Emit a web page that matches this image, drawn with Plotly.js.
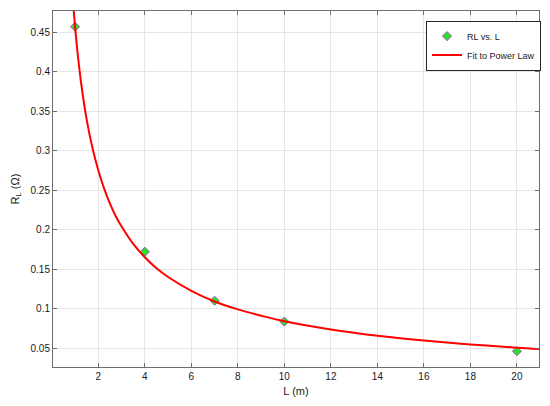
<!DOCTYPE html>
<html>
<head>
<meta charset="utf-8">
<script src="https://cdn.plot.ly/plotly-3.0.1.min.js"></script>
<style>
html,body{margin:0;padding:0;background:#fff;}
#plot{width:550px;height:406px;}
</style>
</head>
<body>
<div id="plot"></div>
<script>
// measured points
const L=[1,4,7,10,20];
const RL=[0.457,0.172,0.110,0.0835,0.046];

// fitted curve
const fitL=[0.93,1,1.1,1.25,1.5,1.75,2,2.25,2.5,2.75,3,3.5,4,4.5,5,6,7,8,9,10,12,14,16,18,20,21];
const fitRL=[0.482,0.457,0.426,0.388,0.339,0.303,0.275,0.252,0.233,0.217,0.204,0.182,0.165,0.151,0.140,0.1225,0.109,0.099,0.091,0.084,0.0736,0.0657,0.0596,0.0546,0.0505,0.0488];

const xTicks=[2,4,6,8,10,12,14,16,18,20];
const yTicks=[0.05,0.1,0.15,0.2,0.25,0.3,0.35,0.4,0.45];

let trace1={x:L,y:RL,name:"RL vs. L",mode:"markers",type:"scatter",
  marker:{symbol:"diamond",size:7,color:"#22e622",line:{color:"#c040d0",width:1}}};
let trace2={x:fitL,y:fitRL,name:"Fit to Power Law",mode:"lines",type:"scatter",
  line:{color:"#ff0000",width:2,shape:"spline",smoothing:1}};

let axisStyle={showline:true,linecolor:"#6e6e6e",linewidth:1,mirror:"ticks",
  ticks:"inside",ticklen:4,tickcolor:"#6e6e6e",showgrid:true,gridcolor:"#e6e6e6",
  zeroline:false,tickfont:{size:10,color:"#1a1a1a"}};

let layout={
  width:550,height:406,
  margin:{l:53,r:10,t:11,b:39},
  paper_bgcolor:"#fff",plot_bgcolor:"#fff",
  font:{family:"Liberation Sans, Arial, sans-serif",color:"#1a1a1a"},
  xaxis:Object.assign({},axisStyle,{range:[0.05,20.95],tickvals:xTicks,
    title:{text:"L (m)",font:{size:11},standoff:6}}),
  yaxis:Object.assign({},axisStyle,{range:[0.026,0.477],tickvals:yTicks,
    ticktext:yTicks.map(String),
    title:{text:"R<sub>L</sub> (Ω)",font:{size:11},standoff:8}}),
  showlegend:true,
  legend:{x:0.766,y:0.973,xanchor:"left",yanchor:"top",bgcolor:"#fff",
    bordercolor:"#262626",borderwidth:1,font:{size:9},itemwidth:30,
    tracegroupgap:0}
};

Plotly.newPlot("plot",[trace1,trace2],layout,{displayModeBar:false,staticPlot:true});
</script>
</body>
</html>
